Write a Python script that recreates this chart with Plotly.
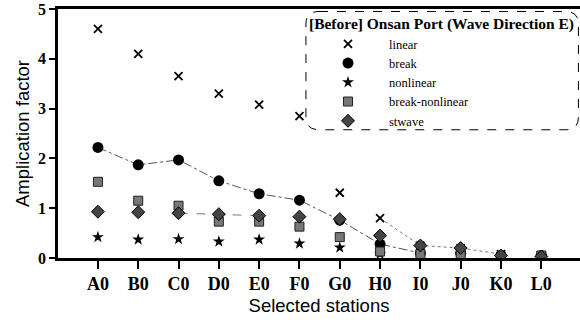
import plotly.graph_objects as go

stations = ["A0", "B0", "C0", "D0", "E0", "F0", "G0", "H0", "I0", "J0", "K0", "L0"]
linear = [4.6, 4.1, 3.65, 3.3, 3.08, 2.85, 1.31, 0.8, 0.25, 0.2, 0.08, 0.05]
brk = [2.22, 1.87, 1.97, 1.55, 1.29, 1.16, 0.76, 0.28, 0.1, 0.1, 0.05, 0.05]
nonlinear = [0.42, 0.37, 0.38, 0.33, 0.37, 0.29, 0.21, 0.08, 0.05, 0.05, 0.03, 0.03]
break_nonlinear = [1.53, 1.15, 1.05, 0.73, 0.73, 0.63, 0.42, 0.13, 0.08, 0.06, 0.03, 0.05]
stwave = [0.93, 0.92, 0.9, 0.88, 0.85, 0.83, 0.78, 0.45, 0.25, 0.2, 0.05, 0.03]

serif = "Liberation Serif"
sans = "Liberation Sans"

fig = go.Figure()
# connecting lines (no legend)
fig.add_trace(go.Scatter(x=stations[:9], y=brk[:9], mode="lines", showlegend=False,
                         line=dict(color="#555", width=1, dash="dashdot"), hoverinfo="skip"))
fig.add_trace(go.Scatter(x=stations[7:11], y=linear[7:11], mode="lines", showlegend=False,
                         line=dict(color="#777", width=1, dash="dot"), hoverinfo="skip"))
fig.add_trace(go.Scatter(x=stations[2:5], y=stwave[2:5], mode="lines", showlegend=False,
                         line=dict(color="#777", width=1, dash="dash"), hoverinfo="skip"))

fig.add_trace(go.Scatter(x=stations, y=linear, mode="markers", name="linear",
                         marker=dict(symbol="x-thin", size=8, color="black",
                                     line=dict(width=1.8, color="black"))))
fig.add_trace(go.Scatter(x=stations, y=brk, mode="markers", name="break",
                         marker=dict(symbol="circle", size=11, color="black")))
fig.add_trace(go.Scatter(x=stations, y=nonlinear, mode="markers", name="nonlinear",
                         marker=dict(symbol="star", size=9, color="black")))
fig.add_trace(go.Scatter(x=stations, y=break_nonlinear, mode="markers", name="break-nonlinear",
                         marker=dict(symbol="square", size=9, color="#777",
                                     line=dict(width=1, color="#222"))))
fig.add_trace(go.Scatter(x=stations, y=stwave, mode="markers", name="stwave",
                         marker=dict(symbol="diamond", size=10, color="#444",
                                     line=dict(width=1, color="black"))))

# rounded dashed legend border
x0, x1, y0, y1 = 0.475, 0.997, 0.515, 0.99
rx, ry = 0.025, 0.05
path = (f"M {x0+rx},{y1} L {x1-rx},{y1} Q {x1},{y1} {x1},{y1-ry} "
        f"L {x1},{y0+ry} Q {x1},{y0} {x1-rx},{y0} L {x0+rx},{y0} "
        f"Q {x0},{y0} {x0},{y0+ry} L {x0},{y1-ry} Q {x0},{y1} {x0+rx},{y1} Z")
fig.add_shape(type="path", path=path, xref="paper", yref="paper",
              line=dict(color="black", width=1, dash="dash"))

fig.update_layout(
    width=580, height=320,
    margin=dict(l=58, r=0, t=9, b=62),
    plot_bgcolor="white", paper_bgcolor="white",
    showlegend=True,
    legend=dict(x=0.477, y=1.0, xanchor="left", yanchor="top",
                bgcolor="rgba(0,0,0,0)", borderwidth=0,
                font=dict(family=serif, size=12.5, color="black"),
                title=dict(text="<b>[Before] Onsan Port (Wave Direction E)</b>",
                           font=dict(family=serif, size=15.5, color="black"), side="top"),
                itemwidth=72, tracegroupgap=0),
    xaxis=dict(type="category", range=[-0.99, 11.96], showgrid=False, zeroline=False,
               showline=True, linecolor="black", linewidth=2.5, mirror=True,
               ticks="outside", ticklen=8, tickwidth=2, tickcolor="black",
               tickfont=dict(family=serif, size=18, color="black", weight="bold"),
               title=dict(text="Selected stations", font=dict(family=sans, size=18.5, color="black"),
                          standoff=6)),
    yaxis=dict(range=[0, 5], dtick=1, showgrid=False, zeroline=False,
               showline=True, linecolor="black", linewidth=2.5,
               ticks="outside", ticklen=6, tickwidth=2, tickcolor="black",
               tickfont=dict(family=serif, size=16, color="black", weight="bold"),
               title=dict(text="Amplication factor", font=dict(family=sans, size=18.5, color="black"),
                          standoff=4)),
)

fig.write_html("out.html")
